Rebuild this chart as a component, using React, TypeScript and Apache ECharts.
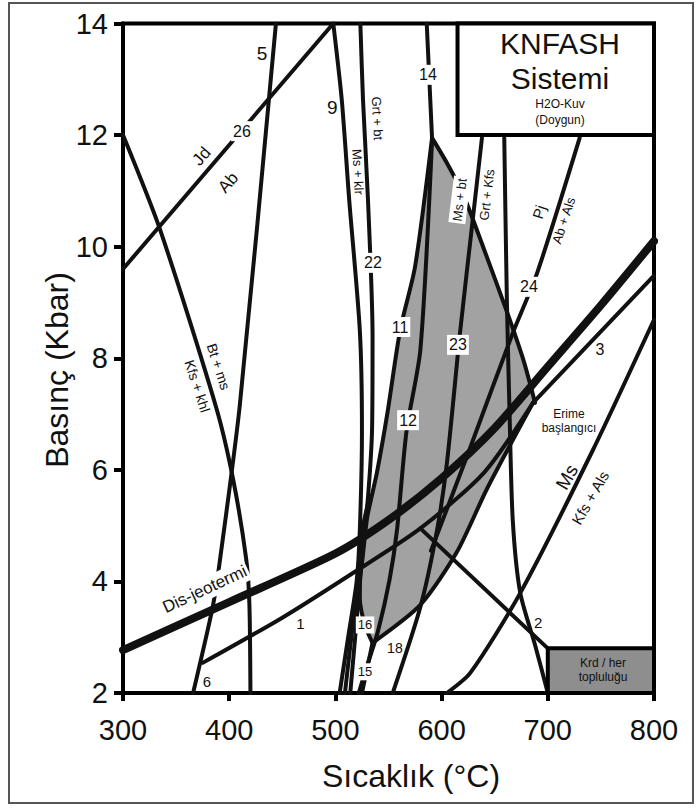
import React, { useEffect, useRef } from "react";
import * as echarts from "echarts";

type Pt = [number, number];

// Axis ticks
const xTickValues = [300, 400, 500, 600, 700, 800];
const yTickValues = [2, 4, 6, 8, 10, 12, 14];

// Reaction curves: [temperature °C, pressure kbar]
const jdAbCurve: Pt[] = [[300, 9.6], [498, 14]];
const btMsCurve: Pt[] = [[300, 12], [335, 10.3], [388, 7.1], [404, 5.8], [416, 4.4], [419, 3.6], [420, 2]];
const curve5: Pt[] = [[444, 14], [410, 7.16], [390, 4.2], [384, 3.5], [366, 2]];
const curve1: Pt[] = [[375, 2.54], [450, 3.35], [514, 4.12], [580, 4.95], [640, 5.95], [686, 7.2]];
const curve3: Pt[] = [[686, 7.2], [800, 9.48]];
const curve9: Pt[] = [[498, 14], [506, 12.63], [513, 10.84], [523, 8.5], [525, 6.7], [523, 4.92], [520, 4.0], [512, 3.0], [504, 2]];
const curve22: Pt[] = [[523.5, 14], [526, 12.63], [530.7, 10.83], [535, 8.4], [534.5, 6.71], [530.7, 5.51], [526, 4.62], [520, 3.3], [514, 2]];
const curve14: Pt[] = [[586, 14], [591, 11.95]];
const curve11: Pt[] = [[591, 11.95], [575, 9.64], [561, 8.51], [549, 7.02], [539, 5.94], [530, 5.15], [525, 4.33], [517, 3.31], [509, 2]];
const curve12: Pt[] = [[591, 11.9], [580, 8.15], [567, 6.7], [558, 4.92], [551, 4.03], [540, 3.1], [530, 2.5], [522, 2]];
const curve16: Pt[] = [[532, 5.5], [524, 4.74], [523, 3.7], [528, 3.2], [535, 2.9]];
const curve15: Pt[] = [[535, 2.9], [525, 2]];
const curve18: Pt[] = [[535, 2.9], [580, 3.58], [614.5, 4.53], [643, 5.67], [686, 7.2]];
const upperBoundary: Pt[] = [[591, 11.95], [605, 11.5], [620, 10.95], [640, 9.95], [661, 8.86], [677, 7.97], [688, 7.2]];
const curve23: Pt[] = [[638, 11.95], [629.6, 10.53], [617.3, 8.45], [605, 6.12], [595.7, 4.92], [580, 3.54], [554, 2]];
const curvePj: Pt[] = [[730, 11.95], [690, 9.53], [667, 8.45], [627, 6.4], [590, 4.55]];
const curve2Steep: Pt[] = [[659, 11.95], [661.5, 9], [664, 7], [667, 5.1], [674, 3.8], [688, 2.86], [700, 2]];
const curve2: Pt[] = [[580, 4.95], [700, 2.8]];
const curveMs: Pt[] = [[605, 2], [627, 2.36], [674, 3.79], [742.6, 6.36], [800, 8.69]];
const geotherm: Pt[] = [[300, 2.77], [400, 3.63], [500, 4.5], [550, 5.1], [600, 5.85], [650, 6.75], [700, 7.85], [750, 8.95], [800, 10.1]];

// Shaded field (apex -> right boundary -> lower boundary -> left boundary)
const shadedField: Pt[] = [
  [591, 11.95], [605, 11.5], [620, 10.95], [640, 9.95], [661, 8.86], [677, 7.97], [688, 7.2],
  [643, 5.67], [614.5, 4.53], [580, 3.58], [535, 2.9],
  [528, 3.2], [523, 3.7], [524, 4.74], [532, 5.5], [539, 5.94], [549, 7.02], [561, 8.51], [575, 9.64],
];

// Boxes: [Tmin, Pmin, Tmax, Pmax]
const systemBox = [615, 12, 800, 14];
const krdBox = [700, 2, 800, 2.8];

type Note = { t: number; p: number; text: string; rot?: number; size: number; bg?: boolean };
const notes: Note[] = [
  { t: 431, p: 13.47, text: "5", size: 19 },
  { t: 497, p: 12.5, text: "9", size: 19 },
  { t: 412, p: 12.07, text: "26", size: 16, bg: true },
  { t: 374, p: 11.62, text: "Jd", rot: 49, size: 17 },
  { t: 399, p: 11.15, text: "Ab", rot: 49, size: 17 },
  { t: 390, p: 7.85, text: "Bt + ms", rot: -72, size: 14 },
  { t: 370, p: 7.5, text: "Kfs + khl", rot: -72, size: 14 },
  { t: 377, p: 3.86, text: "Dis-jeotermi", rot: 25, size: 17, bg: true },
  { t: 467, p: 3.25, text: "1", size: 15 },
  { t: 379, p: 2.2, text: "6", size: 15 },
  { t: 521.3, p: 11.34, text: "Ms + klr", rot: -87, size: 13 },
  { t: 539.5, p: 12.3, text: "Grt + bt", rot: -87, size: 13 },
  { t: 535.4, p: 9.71, text: "22", size: 16, bg: true },
  { t: 587.2, p: 13.08, text: "14", size: 16, bg: true },
  { t: 560.8, p: 8.56, text: "11", size: 16, bg: true },
  { t: 568.4, p: 6.89, text: "12", size: 16, bg: true },
  { t: 615.4, p: 8.24, text: "23", size: 16, bg: true },
  { t: 617, p: 10.84, text: "Ms + bt", rot: 83, size: 13, bg: true },
  { t: 642.7, p: 10.93, text: "Grt + Kfs", rot: 83, size: 13 },
  { t: 691.7, p: 10.62, text: "Pj", rot: 72, size: 15 },
  { t: 715, p: 10.47, text: "Ab + Als", rot: 72, size: 13 },
  { t: 682.3, p: 9.28, text: "24", size: 16, bg: true },
  { t: 749, p: 8.15, text: "3", size: 16 },
  { t: 720, p: 6.87, text: "Erime\nbaşlangıcı", size: 12 },
  { t: 718, p: 5.87, text: "Ms", rot: 60, size: 19 },
  { t: 740, p: 5.5, text: "Kfs + Als", rot: 60, size: 15 },
  { t: 691, p: 3.26, text: "2", size: 15 },
  { t: 527.9, p: 3.22, text: "16", size: 13, bg: true },
  { t: 527.9, p: 2.38, text: "15", size: 13, bg: true },
  { t: 556, p: 2.8, text: "18", size: 14 },
  { t: 752, p: 2.42, text: "Krd / her\ntopluluğu", size: 12 },
  { t: 711.5, p: 13.65, text: "KNFASH", size: 30 },
  { t: 711.5, p: 13.02, text: "Sistemi", size: 30 },
  { t: 711.5, p: 12.56, text: "H2O-Kuv", size: 12 },
  { t: 711.5, p: 12.27, text: "(Doygun)", size: 12 },
];

const FONT = "'Liberation Sans', Arial, Helvetica, sans-serif";
const INK = "#111111";

export default function App() {
  const ref = useRef<HTMLDivElement>(null);

  useEffect(() => {
    if (!ref.current) return;
    const chart = echarts.init(ref.current, null, { renderer: "svg" });

    const curves: { data: Pt[]; width: number }[] = [
      { data: jdAbCurve, width: 4 },
      { data: btMsCurve, width: 4 },
      { data: curve5, width: 4 },
      { data: curve1, width: 4 },
      { data: curve3, width: 4 },
      { data: curve9, width: 4 },
      { data: curve22, width: 4 },
      { data: curve14, width: 4 },
      { data: curve11, width: 4 },
      { data: curve12, width: 4 },
      { data: curve16, width: 4 },
      { data: curve15, width: 4 },
      { data: curve18, width: 4 },
      { data: upperBoundary, width: 4 },
      { data: curve23, width: 4 },
      { data: curvePj, width: 4 },
      { data: curve2Steep, width: 4 },
      { data: curve2, width: 4 },
      { data: curveMs, width: 4 },
      { data: geotherm, width: 8 },
    ];

    const lineSeries = curves.map((c) => ({
      type: "line",
      data: c.data,
      showSymbol: false,
      symbol: "none",
      smooth: 0.25,
      silent: true,
      z: 3,
      lineStyle: { color: INK, width: c.width, cap: "round", join: "round" },
    }));

    const boxSeries = (box: number[], fill: string) => ({
      type: "custom",
      z: 4,
      silent: true,
      data: [[box[0], box[1]]],
      renderItem: (_p: any, api: any) => {
        const a = api.coord([box[0], box[3]]);
        const b = api.coord([box[2], box[1]]);
        return {
          type: "rect",
          shape: { x: a[0], y: a[1], width: b[0] - a[0], height: b[1] - a[1] },
          style: { fill, stroke: "#000", lineWidth: 4 },
        };
      },
    });

    const option: any = {
      animation: false,
      grid: { left: 123, right: 43, top: 23.5, bottom: 119, show: true, borderColor: "#000", borderWidth: 4, backgroundColor: "transparent" },
      xAxis: {
        type: "value",
        min: 300,
        max: 800,
        interval: 100,
        axisLine: { show: true, lineStyle: { color: "#000", width: 4 } },
        axisTick: { show: true, length: 8, inside: false, lineStyle: { color: "#000", width: 4 } },
        axisLabel: { fontSize: 29, margin: 22, color: INK, fontFamily: FONT, customValues: xTickValues },
        splitLine: { show: false },
      },
      yAxis: {
        type: "value",
        min: 2,
        max: 14,
        interval: 2,
        axisLine: { show: true, lineStyle: { color: "#000", width: 4 } },
        axisTick: { show: true, length: 9, inside: false, lineStyle: { color: "#000", width: 4 } },
        axisLabel: { fontSize: 29, margin: 15, color: INK, fontFamily: FONT, customValues: yTickValues },
        splitLine: { show: false },
      },
      graphic: [
        { type: "rect", z: -10, shape: { x: 9, y: 3, width: 684, height: 800 }, style: { fill: "none", stroke: "#555", lineWidth: 2 } },
        {
          type: "text", x: 411, y: 776,
          style: { text: "Sıcaklık (°C)", font: `32px ${FONT}`, fill: INK, textAlign: "center", textVerticalAlign: "middle", align: "center", verticalAlign: "middle" },
        },
        {
          type: "text", x: 57, y: 370, rotation: Math.PI / 2,
          style: { text: "Basınç (Kbar)", font: `32px ${FONT}`, fill: INK, textAlign: "center", textVerticalAlign: "middle", align: "center", verticalAlign: "middle" },
        },
      ],
      series: [
        {
          type: "custom",
          z: 1,
          silent: true,
          data: [shadedField[0]],
          renderItem: (_p: any, api: any) => ({
            type: "polygon",
            shape: { points: shadedField.map((pt) => api.coord(pt)) },
            style: { fill: "#a2a2a2", stroke: "none" },
          }),
        },
        ...lineSeries,
        boxSeries(systemBox, "#ffffff"),
        boxSeries(krdBox, "#8e8e8e"),
        {
          type: "scatter",
          z: 6,
          silent: true,
          symbolSize: 1,
          itemStyle: { color: "rgba(0,0,0,0)", opacity: 1 },
          label: { show: true, position: "inside", color: INK, fontFamily: FONT },
          labelLayout: { hideOverlap: false },
          data: notes.map((n) => ({
            value: [n.t, n.p],
            label: {
              show: true,
              formatter: n.text,
              rotate: n.rot || 0,
              fontSize: n.size,
              fontFamily: FONT,
              color: INK,
              opacity: 1,
              textBorderWidth: 0,
              textBorderColor: "transparent",
              lineHeight: Math.round(n.size * 1.15),
              align: "center",
              verticalAlign: "middle",
              backgroundColor: n.bg ? "#fff" : "transparent",
              padding: n.bg ? [1, 2] : 0,
            },
          })),
        },
      ],
    };

    chart.setOption(option);
    return () => chart.dispose();
  }, []);

  return (
    <div
      ref={ref}
      style={{ position: "absolute", left: 0, top: 0, width: 697, height: 812, background: "#fff" }}
    />
  );
}
